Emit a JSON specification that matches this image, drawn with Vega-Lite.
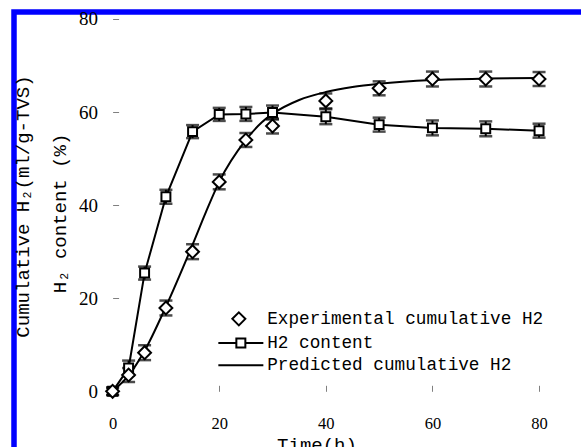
{
  "$schema": "https://vega.github.io/schema/vega-lite/v6.json",
  "width": 605,
  "height": 440,
  "autosize": {"type": "none"},
  "padding": {"left": 14, "top": 12, "right": 0, "bottom": 0},
  "background": "white",
  "config": {
    "view": {"stroke": "#0000ff", "strokeWidth": 5.5},
    "font": "Liberation Serif"
  },
  "datasets": {
    "obs": [
      {"series": "Experimental cumulative H2", "t": 0, "y": 0, "err": 0.8},
      {"series": "Experimental cumulative H2", "t": 3, "y": 3.5, "err": 1.5},
      {"series": "Experimental cumulative H2", "t": 6, "y": 8.3, "err": 1.6},
      {"series": "Experimental cumulative H2", "t": 10, "y": 17.9, "err": 1.6},
      {"series": "Experimental cumulative H2", "t": 15, "y": 30.0, "err": 1.6},
      {"series": "Experimental cumulative H2", "t": 20, "y": 45.0, "err": 1.6},
      {"series": "Experimental cumulative H2", "t": 25, "y": 54.0, "err": 1.5},
      {"series": "Experimental cumulative H2", "t": 30, "y": 57.0, "err": 1.6},
      {"series": "Experimental cumulative H2", "t": 40, "y": 62.4, "err": 1.6},
      {"series": "Experimental cumulative H2", "t": 50, "y": 65.1, "err": 1.5},
      {"series": "Experimental cumulative H2", "t": 60, "y": 67.1, "err": 1.6},
      {"series": "Experimental cumulative H2", "t": 70, "y": 67.1, "err": 1.6},
      {"series": "Experimental cumulative H2", "t": 80, "y": 67.1, "err": 1.5},
      {"series": "H2 content", "t": 0, "y": 0, "err": 0.8},
      {"series": "H2 content", "t": 3, "y": 5.0, "err": 1.6},
      {"series": "H2 content", "t": 6, "y": 25.4, "err": 1.4},
      {"series": "H2 content", "t": 10, "y": 41.8, "err": 1.5},
      {"series": "H2 content", "t": 15, "y": 55.8, "err": 1.4},
      {"series": "H2 content", "t": 20, "y": 59.5, "err": 1.4},
      {"series": "H2 content", "t": 25, "y": 59.6, "err": 1.5},
      {"series": "H2 content", "t": 30, "y": 59.9, "err": 1.5},
      {"series": "H2 content", "t": 40, "y": 59.0, "err": 1.6},
      {"series": "H2 content", "t": 50, "y": 57.3, "err": 1.5},
      {"series": "H2 content", "t": 60, "y": 56.6, "err": 1.6},
      {"series": "H2 content", "t": 70, "y": 56.4, "err": 1.6},
      {"series": "H2 content", "t": 80, "y": 56.0, "err": 1.5}
    ],
    "pred": [
      {"t": 0, "y": 0},
      {"t": 3, "y": 3.4},
      {"t": 6, "y": 8.7},
      {"t": 10, "y": 18.2},
      {"t": 15, "y": 31.5},
      {"t": 17.5, "y": 38.5},
      {"t": 20, "y": 45.0},
      {"t": 25, "y": 54.0},
      {"t": 28, "y": 57.8},
      {"t": 30, "y": 59.6},
      {"t": 35, "y": 62.6},
      {"t": 40, "y": 64.3},
      {"t": 45, "y": 65.4},
      {"t": 50, "y": 66.1},
      {"t": 60, "y": 66.9},
      {"t": 70, "y": 67.2},
      {"t": 80, "y": 67.3}
    ]
  },
  "resolve": {"axis": {"y": "independent"}},
  "layer": [
    {
      "layer": [
        {
          "mark": {"type": "rule", "color": "#808080", "strokeWidth": 1},
          "encoding": {
            "x": {"datum": 0, "type": "quantitative", "scale": {"domain": [-18.5, 95], "nice": false, "zero": false}},
            "y": {"datum": 0, "type": "quantitative", "title": "Cumulative H₂(ml/g-TVS)", "scale": {"domain": [-13.04, 81.5], "nice": false, "zero": false}},
            "y2": {"datum": 80}
          }
        },
        {
          "mark": {"type": "rule", "color": "#404040", "strokeWidth": 1},
          "encoding": {
            "x": {"datum": 0, "type": "quantitative", "title": "Time(h)"},
            "x2": {"datum": 95},
            "y": {"datum": 0, "type": "quantitative", "title": "Cumulative H₂(ml/g-TVS)"}
          }
        },
        {
          "data": {"name": "pred"},
          "mark": {"type": "line", "color": "black", "strokeWidth": 2, "interpolate": "monotone"},
          "encoding": {
            "x": {"field": "t", "type": "quantitative", "title": "Time(h)",
              "axis": {"orient": "bottom", "offset": -60.7, "values": [0, 20, 40, 60, 80], "domain": false, "grid": false,
                "tickSize": -6, "tickColor": "#808080", "labelFont": "Liberation Serif", "labelFontSize": 16.5, "labelColor": "black",
                "labelPadding": 30, "labelFlush": false, "titleFont": "Liberation Mono", "titleFontSize": 19,
                "titleFontWeight": "normal", "titleColor": "black", "titlePadding": 4}},
            "y": {"field": "y", "type": "quantitative", "title": "Cumulative H₂(ml/g-TVS)",
              "axis": {"orient": "left", "offset": -98.6, "values": [0, 20, 40, 60, 80], "domain": false, "grid": false,
                "tickSize": -6, "tickColor": "#808080", "labelFont": "Liberation Serif", "labelFontSize": 19, "labelColor": "black",
                "labelPadding": 21, "labelFlush": false,
                "titleFont": "Liberation Mono", "titleFontSize": 19,
                "titleFontWeight": "normal", "titleColor": "black", "titlePadding": 46, "titleY": 194}}
          }
        },
        {
          "data": {"name": "obs"},
          "transform": [{"filter": "datum.series === 'H2 content'"}],
          "mark": {"type": "line", "color": "black", "strokeWidth": 2},
          "encoding": {
            "x": {"field": "t", "type": "quantitative", "title": "Time(h)"},
            "y": {"field": "y", "type": "quantitative", "title": "Cumulative H₂(ml/g-TVS)"}
          }
        },
        {
          "data": {"name": "obs"},
          "mark": {"type": "errorbar", "color": "black", "ticks": {"size": 13, "thickness": 2.5, "color": "black"}, "rule": {"strokeWidth": 2, "color": "black"}},
          "encoding": {
            "x": {"field": "t", "type": "quantitative", "title": "Time(h)"},
            "y": {"field": "y", "type": "quantitative", "title": "Cumulative H₂(ml/g-TVS)"},
            "yError": {"field": "err"},
            "detail": {"field": "series"}
          }
        },
        {
          "data": {"name": "obs"},
          "transform": [{"filter": "datum.series === 'H2 content'"}],
          "mark": {"type": "point", "shape": "square", "size": 80, "filled": true, "fill": "white", "stroke": "black", "strokeWidth": 2, "opacity": 1},
          "encoding": {
            "x": {"field": "t", "type": "quantitative", "title": "Time(h)"},
            "y": {"field": "y", "type": "quantitative", "title": "Cumulative H₂(ml/g-TVS)"}
          }
        },
        {
          "data": {"name": "obs"},
          "transform": [{"filter": "datum.series === 'Experimental cumulative H2'"}],
          "mark": {"type": "point", "shape": "diamond", "size": 165, "filled": true, "fill": "white", "stroke": "black", "strokeWidth": 2, "opacity": 1},
          "encoding": {
            "x": {"field": "t", "type": "quantitative", "title": "Time(h)"},
            "y": {"field": "y", "type": "quantitative", "title": "Cumulative H₂(ml/g-TVS)"}
          }
        },
        {
          "data": {"name": "obs"},
          "transform": [{"filter": "false"}],
          "mark": {"type": "point", "filled": false, "stroke": "black", "strokeWidth": 2, "opacity": 1},
          "encoding": {
            "x": {"field": "t", "type": "quantitative", "title": "Time(h)"},
            "y": {"field": "y", "type": "quantitative", "title": "Cumulative H₂(ml/g-TVS)"},
            "shape": {"field": "series", "type": "nominal",
              "scale": {"domain": ["Experimental cumulative H2", "H2 content", "Predicted cumulative H2"],
                "range": ["M-0.4,-1.3L0.9,0L-0.4,1.3L-1.7,0Z", "M-4.5,0H-0.9M0.9,0H4.5M-0.9,-0.9H0.9V0.9H-0.9Z", "M-4.5,0H4.5"]},
              "legend": {"orient": "none", "legendX": 218, "legendY": 298, "title": null, "padding": 0,
                "symbolSize": 100, "symbolStrokeColor": "black", "symbolFillColor": "white", "symbolStrokeWidth": 2, "symbolOpacity": 1,
                "labelFont": "Liberation Mono", "labelFontSize": 17.7, "labelColor": "black", "labelOffset": 17.5, "rowPadding": 3.2, "labelLimit": 400,
                "encode": {"symbols": {"update": {"stroke": {"value": "black"}, "fill": {"value": "white"}, "strokeWidth": {"value": 2}, "opacity": {"value": 1}}}}}}
          }
        }
      ]
    },
    {
      "mark": {"type": "rule", "color": "#808080", "strokeWidth": 1},
      "encoding": {
        "x": {"datum": 0, "type": "quantitative", "title": "Time(h)"},
        "y": {"datum": 0, "type": "quantitative",
          "axis": {"orient": "left", "offset": -98.6, "domain": false, "grid": false, "ticks": false, "labels": false,
            "title": "H₂ content (%)", "titleFont": "Liberation Mono", "titleFontSize": 19,
            "titleFontWeight": "normal", "titleColor": "black", "titlePadding": 43.6, "titleY": 201}},
        "y2": {"datum": 80}
      }
    }
  ]
}
